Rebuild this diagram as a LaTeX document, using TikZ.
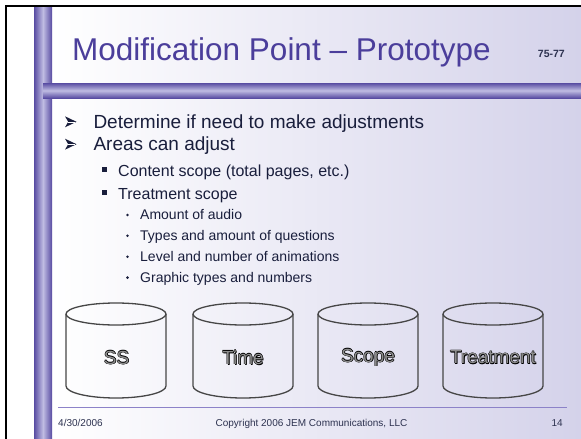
\documentclass[tikz,border=0pt]{standalone}
\usepackage{fontspec}
\setmainfont{Liberation Sans}
\definecolor{titlec}{RGB}{75,62,155}
\definecolor{bodyc}{RGB}{25,30,60}
\definecolor{bardark}{RGB}{88,76,162}
\definecolor{barlight}{RGB}{192,188,226}
\definecolor{bgright}{RGB}{212,210,234}
\definecolor{footc}{RGB}{45,50,80}
\definecolor{rulec}{RGB}{140,130,200}
\definecolor{cylc}{RGB}{70,70,70}
\newcommand\cyltext[3]{%
  \foreach \dx/\dy in {0.8/0.8,-0.45/0,0.45/0,0/0.45,0/-0.45}
    \node[cyllab,text=black] at ([shift={(\dx,\dy)}]#1) {#3};
  \node[cyllab,text=black!45] (#2) at (#1) {#3};}
\tikzset{
  lvlone/.style={anchor=base west,inner sep=0,text=bodyc,font=\fontsize{19}{22}\selectfont},
  lvltwo/.style={anchor=base west,inner sep=0,text=bodyc,font=\fontsize{16}{19}\selectfont},
  lvlthree/.style={anchor=base west,inner sep=0,text=bodyc,font=\fontsize{14}{17}\selectfont},
  foot/.style={anchor=base,inner sep=0,text=footc,font=\fontsize{10}{12}\selectfont},
  cyl/.style={draw=cylc,line width=1.3pt},
  cyllab/.style={inner sep=0,font=\fontsize{19}{22}\selectfont},
  arrbul/.pic={
    \fill[bodyc] (0,-5.5) -- (11.5,0) -- (0,5.5) -- (3.2,0) -- cycle;
    \draw[white,line width=0.5pt] (3.4,0) -- (10,0);},
}
\begin{document}
\begin{tikzpicture}[x=1pt,y=-1pt]
\useasboundingbox (0,0) rectangle (581,439);
\fill[white] (0,0) rectangle (581,439);
% slide background
\shade[left color=white,right color=bgright] (52,7) rectangle (581,439);
% bars
\shade[left color=bardark,right color=bardark,middle color=barlight] (34,7) rectangle (52,439);
\shade[top color=bardark,bottom color=bardark,middle color=barlight] (43,83) rectangle (581,98);
% black frame
\draw[black,line width=1.8pt] (5.9,439) -- (5.9,5.9) -- (581,5.9);
% title
\node[anchor=base west,inner sep=0,text=titlec,font=\fontsize{31.5}{36}\selectfont] (title) at (72,60) {Modification Point – Prototype};
\node[anchor=base east,inner sep=0,text=footc,font=\bfseries\fontsize{10.5}{12}\selectfont] (pages) at (565,57) {75-77};
% level 1
\pic at (65,121.8) {arrbul};
\node[lvlone] (b1) at (93.3,128.3) {Determine if need to make adjustments};
\pic at (65,144.2) {arrbul};
\node[lvlone] (b2) at (93.3,150.7) {Areas can adjust};
% level 2
\fill[bodyc] (101.7,167.4) rectangle (106.7,172.4);
\node[lvltwo] (c1) at (118,176.7) {Content scope (total pages, etc.)};
\fill[bodyc] (101.7,189.7) rectangle (106.7,194.7);
\node[lvltwo] (c2) at (118,199) {Treatment scope};
% level 3
\foreach \yy/\nm/\txt in {219.3/d1/Amount of audio,240.2/d2/Types and amount of questions,261.1/d3/Level and number of animations,282/d4/Graphic types and numbers}{
  \fill[bodyc] (127.5,\yy-4.4) circle[radius=1.4pt];
  \node[lvlthree] (\nm) at (140,\yy) {\txt};
}
% cylinders
\foreach \L in {66,193,318,443}{
  \draw[cyl] (\L+50,314) ellipse [x radius=50,y radius=11];
  \draw[cyl] (\L,314) -- (\L,386) arc[start angle=180,end angle=0,x radius=50,y radius=12] -- (\L+100,314);
}
\cyltext{116.5,357.5}{ss}{SS}
\cyltext{243,357.5}{time}{Time}
\cyltext{368,357.5}{scope}{Scope}
\cyltext{493,357.5}{treat}{Treatment}
% footer
\draw[rulec,line width=1.3pt] (58,407.7) -- (567,407.7);
\node[foot,anchor=base west] (date) at (58,426.5) {4/30/2006};
\node[foot] (copy) at (311.5,426.5) {Copyright 2006 JEM Communications, LLC};
\node[foot,anchor=base east] (num) at (563,426.5) {14};
\end{tikzpicture}
\end{document}
